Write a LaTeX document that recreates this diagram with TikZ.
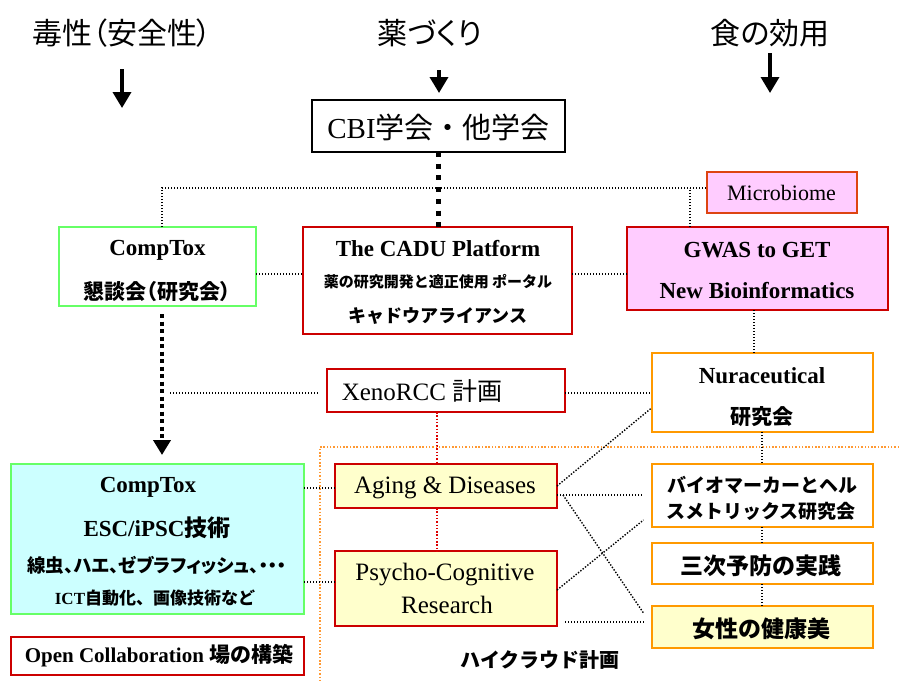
\documentclass[tikz,border=0pt]{standalone}
\usepackage{fontspec}
\setmainfont{Liberation Serif}
\newfontfamily\jp{Noto Sans CJK JP}
\newfontfamily\jpp[RawFeature=+palt]{Noto Sans CJK JP}
\usetikzlibrary{arrows.meta}
\newcommand{\fsz}[1]{\fontsize{#1}{#1}\selectfont}
\definecolor{bred}{HTML}{CC0000}
\definecolor{bmic}{HTML}{DD4411}
\definecolor{bgreen}{HTML}{66FF66}
\definecolor{borange}{HTML}{FF9900}
\definecolor{fpink}{HTML}{FFCCFF}
\definecolor{fyellow}{HTML}{FFFFCC}
\definecolor{fcyan}{HTML}{CCFFFF}
\definecolor{dorange}{HTML}{FF9933}
\definecolor{dred}{HTML}{DD0000}
\begin{document}
\begin{tikzpicture}[x=1pt,y=-1pt,
 box/.style={draw, line width=2pt, inner sep=0pt, outer sep=0pt},
 txt/.style={inner sep=0pt, outer sep=0pt},
 thindot/.style={line width=1.4pt, dash pattern=on 1.4pt off 1.6pt},
 thickdot/.style={line width=5pt, dash pattern=on 5pt off 6.7pt},
 arrowdot/.style={line width=4pt, dash pattern=on 4pt off 3.5pt},
 orangedot/.style={dorange, line width=1.5pt, dash pattern=on 1.5pt off 1.8pt},
 reddot/.style={dred, line width=1.5pt, dash pattern=on 1.5pt off 1.8pt},
 toparrow/.style={line width=3.5pt, -{Triangle[length=16pt,width=18pt]}}
]
\path[use as bounding box, fill=white] (0,0) rectangle (899,680);

% headers
\node[txt] (hdrA) at (122,33) {\jpp\fsz{30}毒性（安全性）};
\node[txt] (hdrB) at (430,33) {\jpp\fsz{30}薬づくり};
\node[txt] (hdrC) at (770,33) {\jpp\fsz{30}食の効用};
\coordinate (aA1) at (122,69); \coordinate (aA2) at (122,108);
\coordinate (aB1) at (439,70); \coordinate (aB2) at (439,93);
\coordinate (aC1) at (770,53); \coordinate (aC2) at (770,93);
\draw[toparrow] (aA1) -- (aA2);
\draw[toparrow] (aB1) -- (aB2);
\draw[toparrow] (aC1) -- (aC2);

% boxes
\node[box, draw=black, line width=1.5pt, minimum width=253pt, minimum height=52pt] (cbi) at (438.5,126) {};
\node[txt] (cbit) at (438.5,127) {\fsz{29}CBI{\jp 学会・他学会}};

\node[box, draw=bmic, fill=fpink, minimum width=150pt, minimum height=41pt] (micro) at (781.5,192.5) {};
\node[txt] (microt) at (781.5,193) {\fsz{22}Microbiome};

\node[box, draw=bgreen, minimum width=197pt, minimum height=79pt] (ct1) at (157.5,266.5) {};
\node[txt] (ct1a) at (157.5,250) {\bfseries\fsz{23}CompTox};
\node[txt] (ct1b) at (157,292) {\jpp\bfseries\fsz{21}懇談会（研究会）};

\node[box, draw=bred, minimum width=269pt, minimum height=107pt] (cadu) at (437.5,280.5) {};
\node[txt] (cadua) at (438,249) {\bfseries\fsz{23}The CADU Platform};
\node[txt] (cadub) at (438,282) {\jp\bfseries\fsz{15}薬の研究開発と適正使用 ポータル};
\node[txt] (caduc) at (438,316) {\jp\bfseries\fsz{18}キャドウアライアンス};

\node[box, draw=bred, fill=fpink, minimum width=261pt, minimum height=83pt] (gwas) at (757.5,268.5) {};
\node[txt] (gwasa) at (757,250) {\bfseries\fsz{23}GWAS to GET};
\node[txt] (gwasb) at (757,291) {\bfseries\fsz{23}New Bioinformatics};

\node[box, draw=bred, minimum width=238pt, minimum height=43pt] (xeno) at (446,390.5) {};
\node[txt] (xenot) at (422,391) {\fsz{25}XenoRCC {\jp 計画}};

\node[box, draw=borange, minimum width=221pt, minimum height=79pt] (nura) at (762,392.5) {};
\node[txt] (nuraa) at (762,376) {\bfseries\fsz{23}Nuraceutical};
\node[txt] (nurab) at (762,417) {\jp\bfseries\fsz{21}研究会};

\node[box, draw=bgreen, fill=fcyan, minimum width=293pt, minimum height=150pt] (ct2) at (157.5,539) {};
\node[txt] (ct2a) at (148,487) {\bfseries\fsz{23}CompTox};
\node[txt] (ct2b) at (157,528) {\bfseries\fsz{23}ESC/iPSC{\jp 技術}};
\node[txt] (ct2c) at (157,565) {\jpp\bfseries\fsz{18.5}線虫、ハエ、ゼブラフィッシュ、・・・};
\node[txt] (ct2d) at (155,598) {\bfseries\fsz{17}ICT{\jp 自動化、画像技術など}};

\node[box, draw=bred, minimum width=293pt, minimum height=38pt] (open) at (157.5,656) {};
\node[txt] (opent) at (159,656) {\bfseries\fsz{21}Open Collaboration {\jp 場の構築}};

\node[box, draw=bred, fill=fyellow, minimum width=222pt, minimum height=44pt] (aging) at (446,486) {};
\node[txt] (agingt) at (445,488) {\fsz{25}Aging \& Diseases};

\node[box, draw=bred, fill=fyellow, minimum width=222pt, minimum height=75pt] (psy) at (446,588.5) {};
\node[txt] (psya) at (445,575) {\fsz{25}Psycho-Cognitive};
\node[txt] (psyb) at (447,605) {\fsz{25}Research};

\node[box, draw=borange, minimum width=221pt, minimum height=63pt] (bio) at (762,495.5) {};
\node[txt] (bioa) at (762,485) {\jp\bfseries\fsz{19}バイオマーカーとヘル};
\node[txt] (biob) at (761,511) {\jp\bfseries\fsz{19}スメトリックス研究会};

\node[box, draw=borange, minimum width=221pt, minimum height=41pt] (sanji) at (762,563.5) {};
\node[txt] (sanjit) at (761,566) {\jp\bfseries\fsz{23}三次予防の実践};

\node[box, draw=borange, fill=fyellow, minimum width=221pt, minimum height=42pt] (josei) at (762,627) {};
\node[txt] (joseit) at (761,629) {\jp\bfseries\fsz{23}女性の健康美};

\node[txt] (haiku) at (540,660) {\jp\bfseries\fsz{20}ハイクラウド計画};

% connectors
\coordinate (j1) at (162,188);
\coordinate (j2) at (690,188);
\draw[thindot] (ct1.north -| j1) -- (j1) -- (micro.west |- j1);
\draw[thindot] (gwas.north -| j2) -- (j2);
\draw[thickdot] (cbi.south) -- (cbi.south |- cadu.north);

\coordinate (y274) at (0,274);
\draw[thindot] (ct1.east |- y274) -- (cadu.west |- y274);
\draw[thindot] (cadu.east |- y274) -- (gwas.west |- y274);
\coordinate (gx) at (754,0);
\draw[thindot] (gwas.south -| gx) -- (nura.north -| gx);

\coordinate (ar1) at (162,314);
\coordinate (ar2) at (162,455);
\draw[arrowdot, -{Triangle[length=15pt,width=17pt]}] (ar1) -- (ar2);

\coordinate (y393) at (0,393);
\coordinate (xl) at (170,393);
\draw[thindot] (xl) -- ([xshift=-9pt]xeno.west |- y393);
\draw[thindot] (xeno.east |- y393) -- (nura.west |- y393);

\coordinate (rx) at (437,0);
\draw[reddot] (xeno.south -| rx) -- (aging.north -| rx);
\draw[reddot] (aging.south -| rx) -- (psy.north -| rx);

\coordinate (o1) at (899,447);
\coordinate (o2) at (320,447);
\coordinate (o3) at (320,680);
\draw[orangedot] (o1) -- (o2) -- (o3);

\draw[thindot] (ct2.east |- 0,488) -- (aging.west |- 0,488);
\draw[thindot] (ct2.east |- 0,582) -- (psy.west |- 0,582);

\draw[thindot] (nura.south) -- (bio.north);
\draw[thindot] (bio.south) -- (sanji.north);
\draw[thindot] (sanji.south) -- (josei.north);

\draw[thindot] (aging.east |- 0,486) -- (nura.west |- 0,408);
\draw[thindot] (aging.east |- 0,495) -- ([xshift=-9pt]bio.west |- 0,495);
\draw[thindot] ([xshift=6pt]aging.east |- 0,495) -- ([xshift=-8pt]josei.west |- 0,613);
\draw[thindot] (psy.east |- 0,590) -- ([xshift=-8pt]bio.west |- 0,520);
\draw[thindot] ([xshift=8pt]psy.east |- 0,622) -- ([xshift=-8pt]josei.west |- 0,622);
\end{tikzpicture}
\end{document}
